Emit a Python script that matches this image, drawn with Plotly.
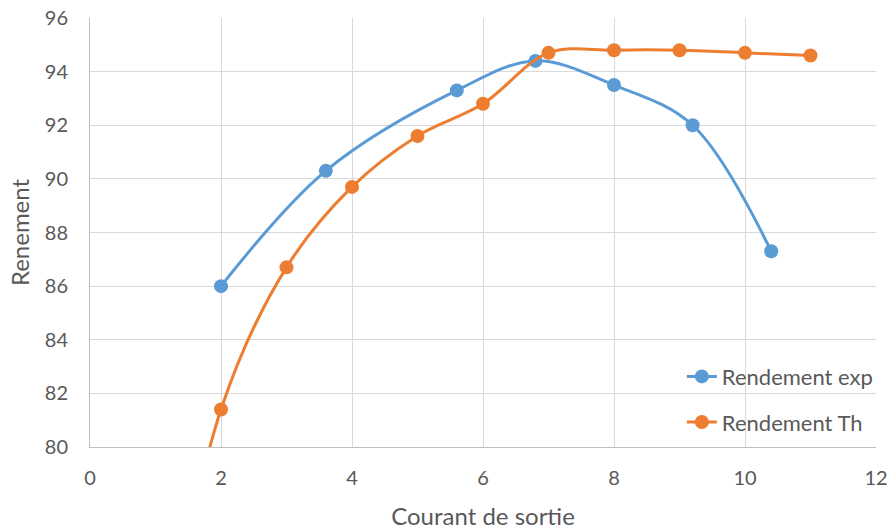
import plotly.graph_objects as go

exp_x = [2, 3.6, 5.6, 6.8, 8, 9.2, 10.4]
exp_y = [86.0, 90.3, 93.3, 94.4, 93.5, 92.0, 87.3]

th_x = [1, 2, 3, 4, 5, 6, 7, 8, 9, 10, 11]
th_y = [70.0, 81.4, 86.7, 89.7, 91.6, 92.8, 94.7, 94.8, 94.8, 94.7, 94.6]

x_ticks = [0, 2, 4, 6, 8, 10, 12]
y_ticks = [80, 82, 84, 86, 88, 90, 92, 94, 96]

font_family = "Lato, 'Open Sans', sans-serif"
grey = "#595959"

fig = go.Figure()
fig.add_trace(go.Scatter(
    x=exp_x, y=exp_y, name="Rendement exp", mode="lines+markers",
    legendgroup="a",
    line=dict(color="#5b9bd5", width=3, shape="spline", smoothing=1.0),
    marker=dict(color="#5b9bd5", size=14),
))
fig.add_trace(go.Scatter(
    x=th_x, y=th_y, name="Rendement Th", mode="lines+markers",
    legendgroup="b",
    line=dict(color="#ed7d31", width=3, shape="spline", smoothing=1.0),
    marker=dict(color="#ed7d31", size=14),
))

fig.update_layout(
    width=890, height=530,
    margin=dict(l=90, r=14, t=18, b=83, autoexpand=False),
    paper_bgcolor="white", plot_bgcolor="white",
    font=dict(family=font_family, size=20, color=grey),
    showlegend=True,
    legend=dict(
        x=0.753, y=0.213, xanchor="left", yanchor="top",
        bgcolor="rgba(255,255,255,0)", font=dict(size=22, color=grey),
        tracegroupgap=14, itemwidth=30,
    ),
    xaxis=dict(
        range=[0, 12], tickvals=x_ticks, ticktext=[str(v) for v in x_ticks],
        showgrid=True, gridcolor="#d9d9d9", gridwidth=1,
        showline=True, linecolor="#bfbfbf", linewidth=1, zeroline=False,
        ticks="", ticklabelstandoff=13, automargin=False, ticklabeloverflow="allow",
        title=dict(text="Courant de sortie", font=dict(size=24, color=grey), standoff=30),
    ),
    yaxis=dict(
        range=[80, 96], tickvals=y_ticks, ticktext=[str(v) for v in y_ticks],
        showgrid=True, gridcolor="#d9d9d9", gridwidth=1,
        showline=True, linecolor="#bfbfbf", linewidth=1, zeroline=False,
        ticks="", ticklabelstandoff=17, automargin=False, ticklabeloverflow="allow",
        title=dict(text="Renement", font=dict(size=24, color=grey), standoff=8),
    ),
)

fig.write_html("out.html", config={"displayModeBar": False},
               post_script="document.body.style.margin='0';")
